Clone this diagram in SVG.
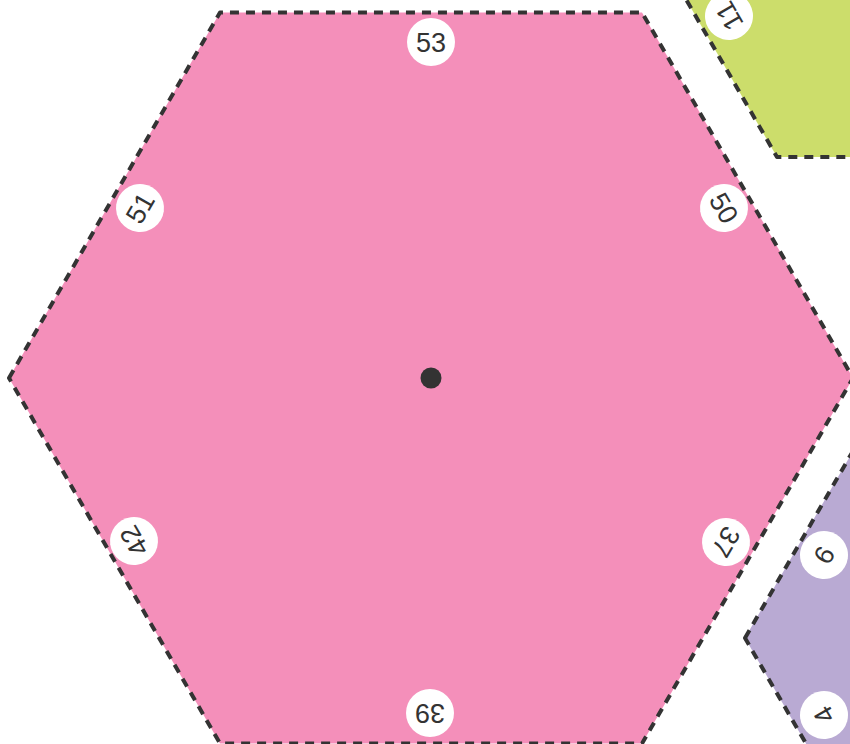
<svg xmlns="http://www.w3.org/2000/svg" width="850" height="744" viewBox="0 0 850 744">
<style>
.hex{stroke:#333;stroke-width:4;stroke-dasharray:9 7;stroke-linejoin:round}
.lab circle{fill:#fff}
.lab text{font-family:"Liberation Sans",Arial,sans-serif;font-size:27px;fill:#333;text-anchor:middle}
</style>
<rect width="850" height="744" fill="#fff"/>
<g id="hex-green">
<polygon class="hex" fill="#CCDD6B" points="631,-96 777,-349 1069,-349 1215,-96 1069,157 777,157"/>
<g class="lab" transform="translate(729,16) rotate(-120)"><circle r="24"/><text y="9.5">11</text></g>
</g>
<g id="hex-purple">
<polygon class="hex" fill="#B9AAD3" points="745,638 855,447.5 1075,447.5 1185,638 1075,828.5 855,828.5"/>
<g class="lab" transform="translate(824,555) rotate(-60)"><circle r="24"/><text y="9.5">6</text></g>
<g class="lab" transform="translate(824,715) rotate(-120)"><circle r="24"/><text y="9.5">4</text></g>
</g>
<g id="hex-pink">
<polygon class="hex" fill="#F48FBA" points="9,378 220,12.5 642,12.5 853,378 642,743.5 220,743.5"/>
<circle cx="431" cy="378" r="10.5" fill="#333"/>
<g class="lab" transform="translate(431,42)"><circle r="24"/><text y="9.5">53</text></g>
<g class="lab" transform="translate(140,208) rotate(-60)"><circle r="24"/><text y="9.5">51</text></g>
<g class="lab" transform="translate(724,208) rotate(60)"><circle r="24"/><text y="9.5">50</text></g>
<g class="lab" transform="translate(134,541) rotate(-120)"><circle r="24"/><text y="9.5">42</text></g>
<g class="lab" transform="translate(726,542) rotate(120)"><circle r="24"/><text y="9.5">37</text></g>
<g class="lab" transform="translate(430,713) rotate(180)"><circle r="24"/><text y="9.5">39</text></g>
</g>
<g id="connectors"/>
</svg>
